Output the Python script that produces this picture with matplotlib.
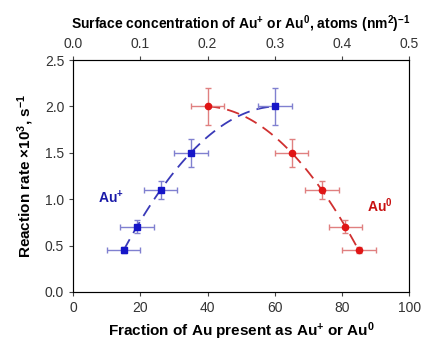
import numpy as np
import matplotlib.pyplot as plt

plt.rcParams['font.family'] = ['Liberation Sans', 'DejaVu Sans']
plt.rcParams['mathtext.fontset'] = 'custom'
plt.rcParams['mathtext.rm'] = 'Liberation Sans:bold'
plt.rcParams['mathtext.bf'] = 'Liberation Sans:bold'
plt.rcParams['mathtext.it'] = 'Liberation Sans:bold'
plt.rcParams['mathtext.default'] = 'bf'

# data
au_plus_x = [15, 19, 26, 35, 60]
au_plus_y = [0.45, 0.70, 1.10, 1.50, 2.00]
au_zero_x = [85, 81, 74, 65, 40]
au_zero_y = [0.45, 0.70, 1.10, 1.50, 2.00]
x_err = [5, 5, 5, 5, 5]
y_err = [0.03, 0.07, 0.10, 0.15, 0.20]

blue = '#1515c8'
red = '#e01515'

fig = plt.figure(figsize=(4.33, 3.45), dpi=100)
ax = fig.add_axes([0.169, 0.154, 0.776, 0.672])

# dashed quadratic trend through each series
for xs, ys, c in [(au_plus_x, au_plus_y, '#3a3ab8'), (au_zero_x, au_zero_y, '#d03030')]:
    p = np.polyfit(xs, ys, 2)
    xx = np.linspace(min(xs), max(xs), 100)
    ax.plot(xx, np.polyval(p, xx), ls=(0, (7, 4)), color=c, lw=1.3, zorder=2)

ax.errorbar(au_plus_x, au_plus_y, xerr=x_err, yerr=y_err, fmt='s', color=blue,
            ms=4.5, ecolor='#8080d0', elinewidth=1, capsize=2.5, zorder=3)
ax.errorbar(au_zero_x, au_zero_y, xerr=x_err, yerr=y_err, fmt='o', color=red,
            ms=4.5, ecolor='#e08080', elinewidth=1, capsize=2.5, zorder=3)

ax.text(7.5, 1.02, 'Au$^{+}$', color='#1a1aa8', fontsize=10, fontweight='bold', va='center')
ax.text(87.5, 0.93, 'Au$^{0}$', color='#c81010', fontsize=10, fontweight='bold', va='center')

ax.set_xlim(0, 100)
ax.set_ylim(0, 2.5)
ax.set_xticks([0, 20, 40, 60, 80, 100])
ax.set_yticks([0, 0.5, 1.0, 1.5, 2.0, 2.5])
ax.set_yticklabels(['0.0', '0.5', '1.0', '1.5', '2.0', '2.5'])
ax.tick_params(labelsize=10, length=3, colors='#444444', labelcolor='#333333')
for s in ax.spines.values():
    s.set_color('#555555')

ax.set_xlabel('Fraction of Au present as Au$^{+}$ or Au$^{0}$', fontsize=11,
              fontweight='bold', labelpad=4)
ax.set_ylabel('Reaction rate $\\times 10^{3}$, s$^{-1}$', fontsize=11,
              fontweight='bold', labelpad=6)

top = ax.twiny()
top.set_xlim(0, 0.5)
top.set_xticks([0, 0.1, 0.2, 0.3, 0.4, 0.5])
top.set_xticklabels(['0.0', '0.1', '0.2', '0.3', '0.4', '0.5'])
top.tick_params(labelsize=10, length=3, colors='#444444', labelcolor='#333333')
top.set_xlabel('Surface concentration of Au$^{+}$ or Au$^{0}$, atoms (nm$^{2}$)$^{-1}$',
               fontsize=10, fontweight='bold', labelpad=6)

fig.savefig('out.png', dpi=100)
